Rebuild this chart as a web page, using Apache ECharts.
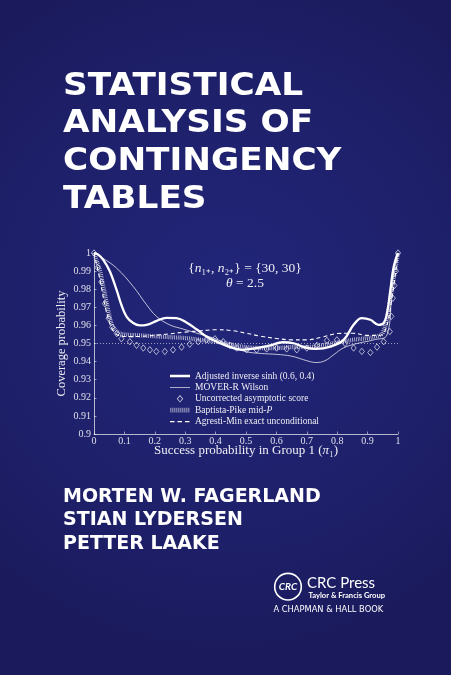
<!DOCTYPE html>
<html><head><meta charset="utf-8">
<script src="https://cdn.jsdelivr.net/npm/echarts@6/dist/echarts.min.js"></script>
<style>html,body{margin:0;padding:0;background:#1d1f66;}#c{width:451px;height:675px;}</style>
</head><body><div id="c"></div>
<script>
// ---- data ----
const adjSinhX = [0, 0.015, 0.03, 0.052, 0.074, 0.09, 0.107, 0.129, 0.151, 0.173, 0.206, 0.238, 0.271, 0.304, 0.337, 0.37, 0.403, 0.447, 0.49, 0.535, 0.58, 0.62, 0.66, 0.69, 0.73, 0.778, 0.821, 0.854, 0.881, 0.909, 0.936, 0.953, 0.964, 0.975, 0.986, 1];
const adjSinhY = [1.0, 0.999, 0.9963, 0.9899, 0.9797, 0.9714, 0.9649, 0.9613, 0.960, 0.9603, 0.9625, 0.9642, 0.964, 0.9616, 0.9579, 0.9539, 0.9511, 0.948, 0.9465, 0.9475, 0.949, 0.9507, 0.950, 0.948, 0.947, 0.9483, 0.952, 0.9603, 0.964, 0.9631, 0.9603, 0.9613, 0.9668, 0.9797, 0.9926, 1.0];

const moverX = [0, 0.03, 0.074, 0.129, 0.173, 0.206, 0.249, 0.293, 0.348, 0.403, 0.447, 0.5, 0.55, 0.6, 0.65, 0.7, 0.73, 0.76, 0.79, 0.82, 0.865, 0.92, 0.964, 0.98, 0.991, 1];
const moverY = [1.0, 0.997, 0.9917, 0.9815, 0.9714, 0.9649, 0.9603, 0.958, 0.9552, 0.9524, 0.9487, 0.9455, 0.9445, 0.944, 0.943, 0.9405, 0.9395, 0.9405, 0.944, 0.9475, 0.950, 0.952, 0.9548, 0.9797, 0.995, 1.0];

const scoreX = [0, 0.012, 0.024, 0.036, 0.048, 0.06, 0.075, 0.09, 0.118, 0.14, 0.162, 0.184, 0.205, 0.233, 0.26, 0.288, 0.315, 0.343, 0.37, 0.398, 0.425, 0.447, 0.469, 0.502, 0.535, 0.568, 0.601, 0.634, 0.667, 0.70, 0.733, 0.766, 0.799, 0.826, 0.854, 0.881, 0.909, 0.931, 0.953, 0.973, 0.978, 0.983, 0.988, 0.993, 1];
const scoreY = [1.0, 0.992, 0.984, 0.972, 0.964, 0.959, 0.9555, 0.9526, 0.951, 0.949, 0.9475, 0.9465, 0.9456, 0.9456, 0.9465, 0.948, 0.9496, 0.951, 0.952, 0.9526, 0.951, 0.949, 0.9475, 0.9465, 0.9465, 0.947, 0.9475, 0.947, 0.9465, 0.9475, 0.949, 0.9517, 0.952, 0.950, 0.9475, 0.9456, 0.945, 0.948, 0.951, 0.9566, 0.965, 0.975, 0.982, 0.99, 1.0];

const bpX = [0, 0.01, 0.02, 0.03, 0.04, 0.05, 0.06, 0.08, 0.1, 0.15, 0.2, 0.25, 0.3, 0.35, 0.4, 0.45, 0.5, 0.55, 0.6, 0.65, 0.7, 0.75, 0.8, 0.85, 0.9, 0.93, 0.95, 0.97, 0.98, 0.99, 1];
const bpY = [1.0, 0.995, 0.99, 0.982, 0.974, 0.966, 0.96, 0.956, 0.955, 0.9545, 0.954, 0.9535, 0.953, 0.952, 0.951, 0.9495, 0.948, 0.9475, 0.9475, 0.948, 0.948, 0.949, 0.9505, 0.952, 0.953, 0.954, 0.956, 0.97, 0.98, 0.99, 1.0];

const amX = [0, 0.02, 0.04, 0.06, 0.08, 0.12, 0.2, 0.3, 0.35, 0.4, 0.45, 0.5, 0.55, 0.6, 0.65, 0.7, 0.75, 0.8, 0.85, 0.9, 0.94, 0.96, 0.98, 1];
const amY = [1.0, 0.985, 0.968, 0.958, 0.9545, 0.9538, 0.9545, 0.9563, 0.957, 0.9576, 0.9572, 0.9557, 0.954, 0.9528, 0.952, 0.952, 0.9535, 0.9555, 0.9557, 0.9545, 0.9545, 0.958, 0.975, 1.0];

const nominalLevel = 0.95;
const seriesNames = ['Adjusted inverse sinh (0.6, 0.4)', 'MOVER-R Wilson', 'Uncorrected asymptotic score', 'Baptista-Pike mid-P', 'Agresti-Min exact unconditional'];
const titleLines = ['STATISTICAL', 'ANALYSIS OF', 'CONTINGENCY', 'TABLES'];
const authors = ['MORTEN W. FAGERLAND', 'STIAN LYDERSEN', 'PETTER LAAKE'];

const pairs = (xs, ys) => xs.map((x, i) => [x, ys[i]]);
const serif = 'Liberation Serif';
const W = 'rgba(255,255,255,0.92)';
const sans = 'DejaVu Sans';

// legend icons drawn in a 20x8 box (corner specks fix the box)
const box = 'M0,0h0.01v0.01h-0.01Z M20,8h-0.01v-0.01h0.01Z ';
const iconThick = 'path://' + box + 'M0,2.8H20V5.2H0Z';
const iconThin = 'path://' + box + 'M0,3.55H20V4.45H0Z';
const iconDiamond = 'path://' + box + 'M10,0.3L13.2,4L10,7.7L6.8,4Z M10,1.4L7.85,4L10,6.6L12.15,4Z';
let bars = '';
for (let k = 0; k < 10; k++) { const x0 = 0.5 + k * 2; bars += 'M' + x0 + ',1.6H' + (x0 + 0.75) + 'V6.4H' + x0 + 'Z '; }
const iconBars = 'path://' + box + bars;
const iconDash = 'path://' + box + 'M0,3.4H4.5V4.6H0Z M7.5,3.4H12V4.6H7.5Z M15,3.4H19.5V4.6H15Z';
const legendIcons = [iconThick, iconThin, iconDiamond, iconBars, iconDash];
const legendColors = ['#fff', 'rgba(255,255,255,0.85)', '#fff', 'rgba(255,255,255,0.8)', '#fff'];

const chart = echarts.init(document.getElementById('c'), null, {renderer: 'canvas'});

const graphics = [
  {type: 'rect', z: -10, silent: true, shape: {x: 0, y: 0, width: 451, height: 675},
   style: {fill: new echarts.graphic.RadialGradient(0.5, 0.45, 0.8, [
     {offset: 0, color: '#22267a'}, {offset: 0.6, color: '#1e206a'}, {offset: 1, color: '#1a1a5c'}])}}
];
titleLines.forEach((t, i) => graphics.push({type: 'text', x: 63, y: 86.5 + i * 37.8, scaleX: 1.09,
  style: {text: t, fill: '#fff', fontFamily: sans, fontWeight: 'bold', fontSize: 31.5, textVerticalAlign: 'middle'}}));
authors.forEach((t, i) => graphics.push({type: 'text', x: 63, y: 497 + i * 23.3,
  style: {text: t, fill: '#fff', fontFamily: sans, fontWeight: 'bold', fontSize: 19, textVerticalAlign: 'middle'}}));
const richI = (fs) => ({i: {fontStyle: 'italic', fontFamily: serif, fontSize: fs, fill: W}});
graphics.push(
  {type: 'text', x: 245, y: 268, style: {text: '{{i|n}₁₊, {i|n}₂₊} = {30, 30}', fill: W, fontFamily: serif, fontSize: 13.5,
    textAlign: 'center', textVerticalAlign: 'middle', rich: richI(13.5)}},
  {type: 'text', x: 245, y: 283.5, style: {text: '{i|θ} = 2.5', fill: W, fontFamily: serif, fontSize: 13.5,
    textAlign: 'center', textVerticalAlign: 'middle', rich: richI(13.5)}},
  {type: 'circle', shape: {cx: 288, cy: 586.7, r: 13.3}, style: {fill: 'none', stroke: '#fff', lineWidth: 1.6}},
  {type: 'text', x: 288, y: 587, style: {text: 'CRC', fill: '#fff', fontFamily: 'Lato', fontWeight: 'bold', fontStyle: 'italic', fontSize: 10,
    textAlign: 'center', textVerticalAlign: 'middle', stroke: '#1d1f66', lineWidth: 1.5}},
  {type: 'text', x: 307, y: 583, style: {text: 'CRC Press', fill: '#fff', fontFamily: 'Lato', fontSize: 15, textVerticalAlign: 'middle'}},
  {type: 'text', x: 308.5, y: 595.6, style: {text: 'Taylor & Francis Group', fill: '#fff', fontFamily: 'Lato', fontWeight: 'bold', fontSize: 7.6, textVerticalAlign: 'middle'}},
  {type: 'text', x: 273.5, y: 610, style: {text: 'A CHAPMAN & HALL BOOK', fill: '#fff', fontFamily: 'DejaVu Sans', fontSize: 8.3, textVerticalAlign: 'middle'}}
);

const option = {
  backgroundColor: 'transparent',
  animation: false,
  graphic: graphics,
  grid: {left: 94, right: 53, top: 253, bottom: 241, containLabel: false},
  legend: {
    orient: 'vertical', left: 170, top: 371, padding: 0,
    itemWidth: 20, itemHeight: 8, itemGap: 1.4, symbolKeepAspect: false,
    data: seriesNames.map((n, i) => ({name: n, icon: legendIcons[i], itemStyle: {color: legendColors[i], borderWidth: 0}})),
    textStyle: {color: W, fontFamily: serif, fontSize: 9.5, lineHeight: 9,
      rich: {i: {fontStyle: 'italic', fontFamily: serif, fontSize: 9.5, lineHeight: 9, color: W}}},
    formatter: n => n === 'Baptista-Pike mid-P' ? 'Baptista-Pike mid-{i|P}' : n
  },
  xAxis: {
    type: 'value', min: 0, max: 1, interval: 0.1,
    name: 'Success probability in Group 1 ({i|π}₁)', nameLocation: 'middle', nameGap: 10, nameMoveOverlap: false,
    nameTextStyle: {color: W, fontFamily: serif, fontSize: 13, rich: {i: {fontStyle: 'italic', fontFamily: serif, fontSize: 13, color: W}}},
    axisLine: {lineStyle: {color: 'rgba(255,255,255,0.85)', width: 0.8}},
    axisTick: {inside: true, length: 2.5, lineStyle: {color: 'rgba(255,255,255,0.85)', width: 0.6}},
    splitLine: {show: false},
    axisLabel: {color: 'rgba(255,255,255,0.85)', fontFamily: serif, fontSize: 10, margin: 2}
  },
  yAxis: {
    type: 'value', min: 0.9, max: 1, interval: 0.01,
    name: 'Coverage probability', nameLocation: 'middle', nameGap: 26, nameMoveOverlap: false,
    nameTextStyle: {color: W, fontFamily: serif, fontSize: 12.5},
    axisLine: {show: true, lineStyle: {color: 'rgba(255,255,255,0.85)', width: 0.8}},
    axisTick: {show: true, inside: true, length: 2.5, lineStyle: {color: 'rgba(255,255,255,0.85)', width: 0.6}},
    splitLine: {show: false},
    axisLabel: {color: 'rgba(255,255,255,0.85)', fontFamily: serif, fontSize: 10, margin: 3}
  },
  series: [
    {name: seriesNames[0], type: 'line', data: pairs(adjSinhX, adjSinhY), smooth: 0.4, symbol: 'none', z: 6,
     lineStyle: {color: '#fff', width: 2.3}, itemStyle: {color: '#fff'}},
    {name: seriesNames[1], type: 'line', data: pairs(moverX, moverY), smooth: 0.4, symbol: 'none', z: 5,
     lineStyle: {color: 'rgba(255,255,255,0.8)', width: 0.9}, itemStyle: {color: 'rgba(255,255,255,0.8)'}},
    {name: seriesNames[2], type: 'scatter', data: pairs(scoreX, scoreY), symbol: 'diamond', symbolSize: [5.2, 6.4], z: 4,
     itemStyle: {color: 'rgba(0,0,0,0)', borderColor: '#fff', borderWidth: 0.8}},
    {name: seriesNames[3], type: 'line', data: pairs(bpX, bpY), smooth: 0.4, symbol: 'none', z: 3,
     lineStyle: {color: 'rgba(255,255,255,0.75)', width: 4.2, type: [0.75, 1.1]}, itemStyle: {color: 'rgba(255,255,255,0.75)'}},
    {name: seriesNames[4], type: 'line', data: pairs(amX, amY), smooth: 0.4, symbol: 'none', z: 4,
     lineStyle: {color: '#fff', width: 1.1, type: [4, 3]}, itemStyle: {color: '#fff'},
     markLine: {silent: true, symbol: ['none', 'none'], label: {show: false},
       lineStyle: {type: [1, 2], color: 'rgba(255,255,255,0.7)', width: 0.8}, data: [{yAxis: nominalLevel}]}}
  ]
};
chart.setOption(option);
</script>
</body></html>
